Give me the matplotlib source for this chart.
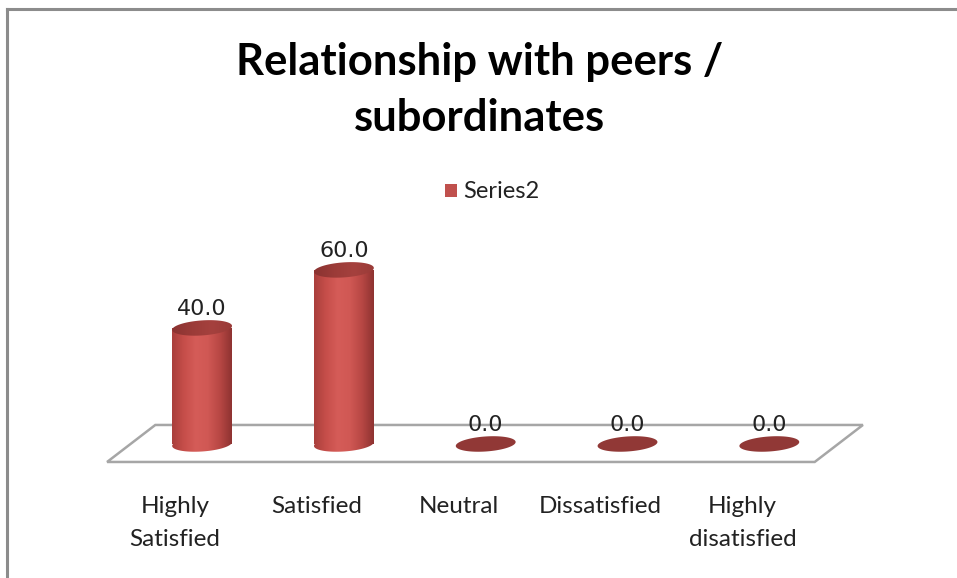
import numpy as np
import matplotlib
matplotlib.use('Agg')
import matplotlib.pyplot as plt
from matplotlib.patches import Rectangle, Polygon
from matplotlib.colors import LinearSegmentedColormap
from matplotlib.lines import Line2D

# Survey results
categories = ['Highly\nSatisfied', 'Satisfied', 'Neutral', 'Dissatisfied', 'Highly\ndisatisfied']
values = [40.0, 60.0, 0.0, 0.0, 0.0]
series_name = 'Series2'
title_lines = ['Relationship with peers /', 'subordinates']

W, H = 957, 578
fig = plt.figure(figsize=(W / 100, H / 100), dpi=100)
fig.patch.set_facecolor('white')

# outer frame (top and left edges only)
fig.add_artist(Line2D([7 / W, 1.0], [1 - 9 / H, 1 - 9 / H], color='#8c8c8c', lw=2.2))
fig.add_artist(Line2D([7 / W, 7 / W], [1 - 9 / H, 0.0], color='#8c8c8c', lw=2.2))

# title
for i, line in enumerate(title_lines):
    fig.text(0.501, 1 - (62 + 56 * i) / H, line, ha='center', va='center',
             fontsize=31.4, fontweight='bold', family='Lato', color='black')

# legend
fig.patches.append(Rectangle((445 / W, 1 - 197 / H), 12 / W, 13 / H,
                             transform=fig.transFigure, facecolor='#C0504D',
                             edgecolor='none'))
fig.text(463 / W, 1 - 191 / H, series_name, ha='left', va='center',
         fontsize=17, family='Lato', color='#222222')

# plotting area: x in category units, y in value units
ax = fig.add_axes([100 / W, 1 - 470 / H, 770 / W, 230 / H])
ax.set_xlim(-0.72, 4.71)
ax.set_ylim(-8.97, 70.3)
ax.axis('off')

# pixels per data unit, used to keep the ellipses round on screen
p0 = ax.transData.transform((0, 0))
p1 = ax.transData.transform((1, 1))
sx, sy = p1[0] - p0[0], p1[1] - p0[1]

n = len(values)
w = 0.42                 # cylinder width (category units)
ea, eb = 30.0, 7.5       # ellipse semi-axes in pixels
tilt = np.deg2rad(4)


def ellipse_xy(cx, cy):
    t = np.linspace(0, 2 * np.pi, 100)
    dx = ea * np.cos(t) * np.cos(tilt) - eb * np.sin(t) * np.sin(tilt)
    dy = ea * np.cos(t) * np.sin(tilt) + eb * np.sin(t) * np.cos(tilt)
    return np.column_stack([cx + dx / sx, cy + dy / sy])


# floor
floor = Polygon([(-0.67, -6.2), (-0.33, 6.55), (n - 1 + 0.66, 6.55), (n - 1 + 0.32, -6.2)],
                closed=True, facecolor='white', edgecolor='#a6a6a6', lw=1.8, zorder=1)
ax.add_patch(floor)

body_cmap = LinearSegmentedColormap.from_list(
    'body', ['#A93F3C', '#C64E4A', '#D55C58', '#D05854', '#B84744', '#8E3331'])
top_cmap = LinearSegmentedColormap.from_list(
    'top', ['#8A3331', '#9B3B38', '#A5413E', '#9A3B38'])
grad = np.linspace(0, 1, 256).reshape(1, -1)
eh = 2 * eb / sy

for i, v in enumerate(values):
    x0, x1 = i - w / 2, i + w / 2
    if v > 0:
        # body of the cylinder
        rect = Rectangle((x0, 0), w, v, transform=ax.transData)
        im = ax.imshow(grad, cmap=body_cmap, extent=[x0, x1, -eh, v],
                       aspect='auto', zorder=3)
        im.set_clip_path(rect)
        bottom = Polygon(ellipse_xy(i, 0), transform=ax.transData)
        im2 = ax.imshow(grad, cmap=body_cmap, extent=[x0, x1, -eh, v],
                        aspect='auto', zorder=3)
        im2.set_clip_path(bottom)
        # top cap
        cap = Polygon(ellipse_xy(i, v), transform=ax.transData)
        im3 = ax.imshow(grad, cmap=top_cmap, extent=[x0, x1, v - eh, v + eh],
                        aspect='auto', zorder=4)
        im3.set_clip_path(cap)
    else:
        ax.add_patch(Polygon(ellipse_xy(i, v), closed=True, facecolor='#913836',
                             edgecolor='none', zorder=3))
    ax.text(i, v + (eb + 5) / sy, f'{v:.1f}', ha='center', va='baseline',
            fontsize=16, color='#222222', zorder=5)

ax.set_xlim(-0.72, 4.71)
ax.set_ylim(-8.97, 70.3)

# category labels, aligned with the front edge of the floor
for i, lab in enumerate(categories):
    ax.text(i - 0.19, -18.1, lab, ha='center', va='top', fontsize=17.5,
            family='Lato', color='#222222', linespacing=1.67, clip_on=False)

fig.savefig('out.png', dpi=100, facecolor='white')
